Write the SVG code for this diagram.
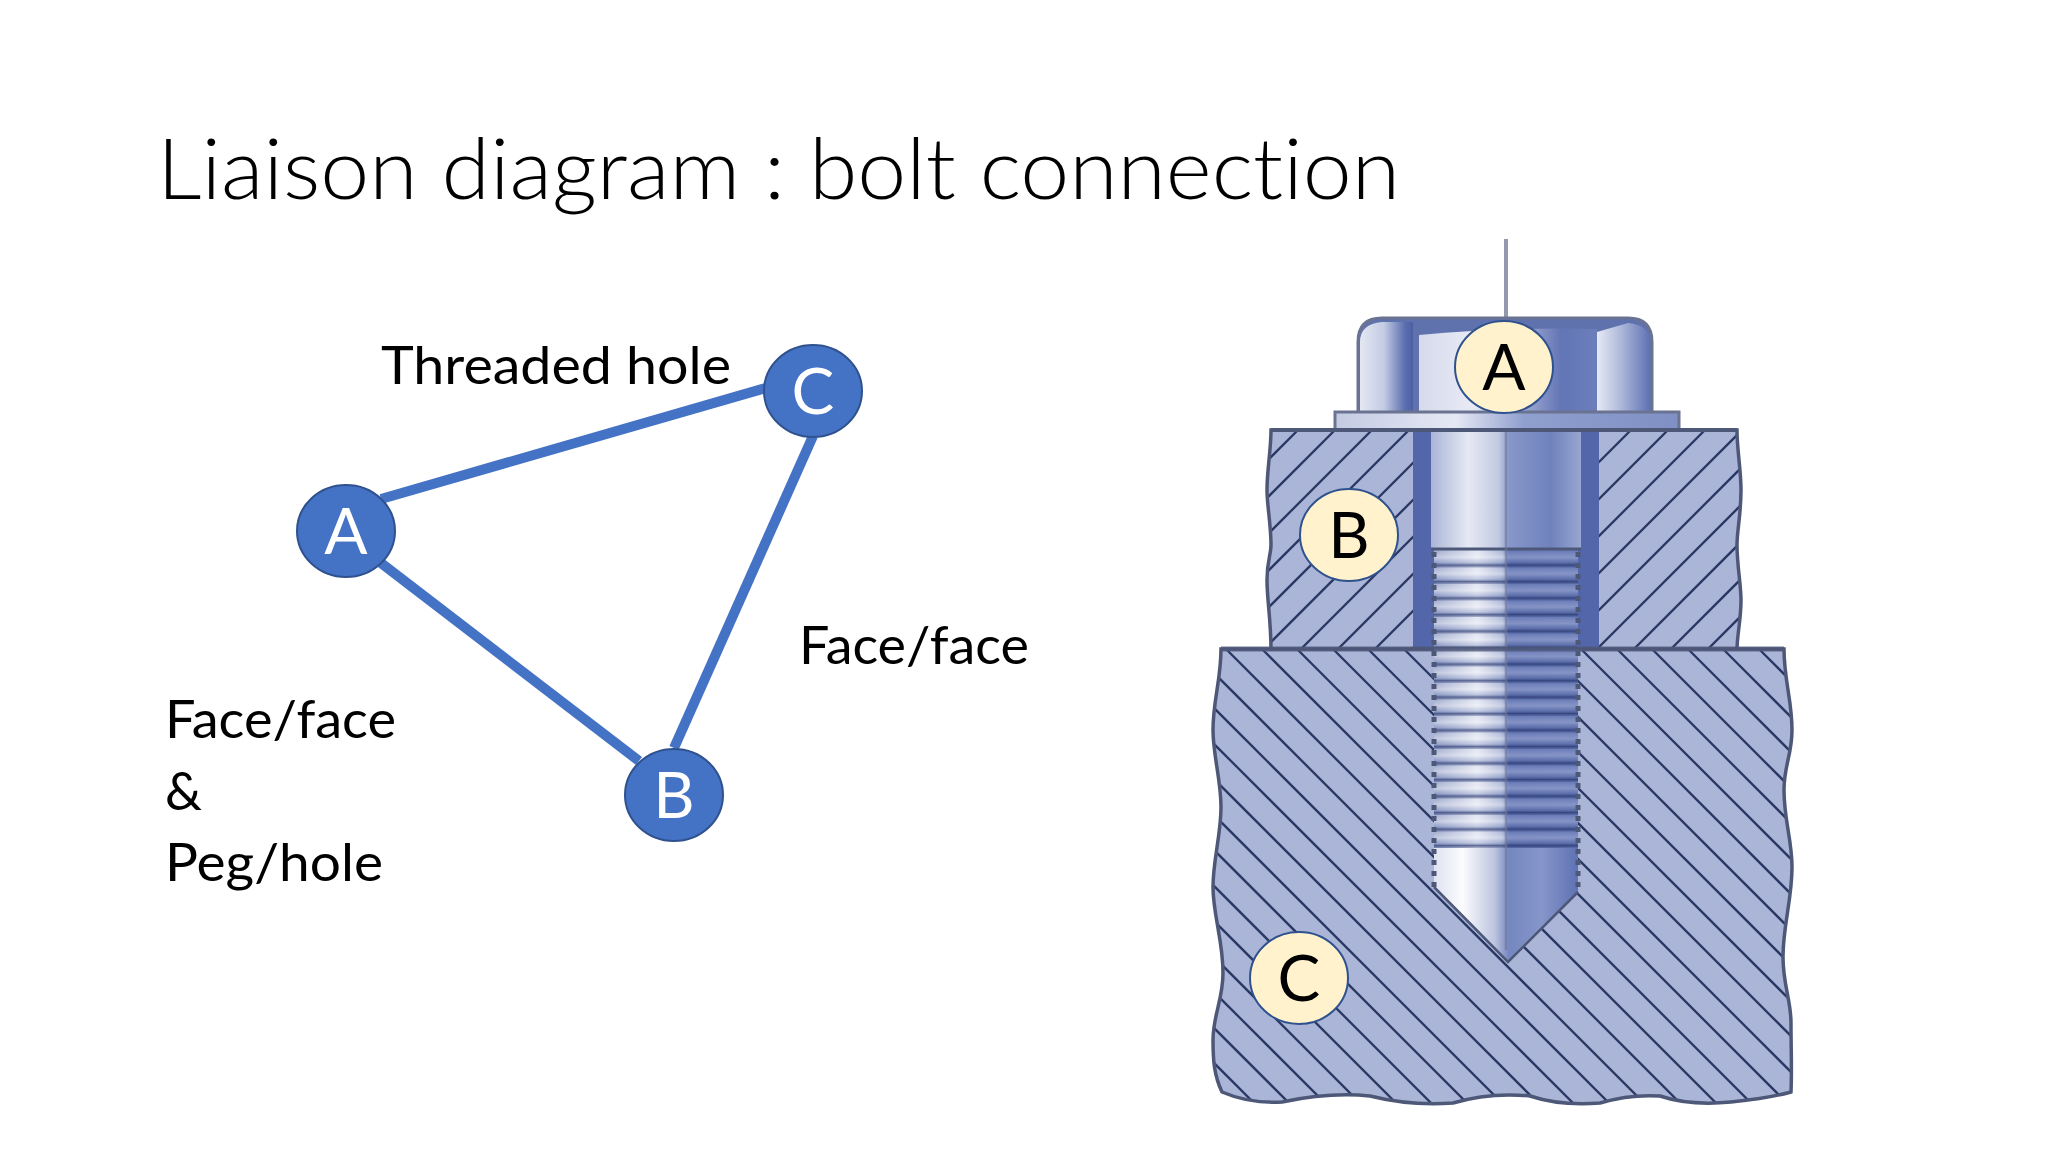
<svg xmlns="http://www.w3.org/2000/svg" width="2048" height="1152" viewBox="0 0 2048 1152">
<style>
text{font-family:Lato,"Open Sans","Liberation Sans",sans-serif;fill:#000;font-variant-ligatures:none}
.lbl{font-size:52px}
.nt{font-size:64px;text-anchor:middle}
.blue ellipse{fill:#4472c4;stroke:#2f528f;stroke-width:2}
.blue text{fill:#fff}
.cream ellipse{fill:#fff2cc;stroke:#2f528f;stroke-width:2}
.conn{stroke:#4472c4;stroke-width:10;fill:none}
.hatch{stroke:#2a3864;stroke-width:2.3;fill:none}
.edge{stroke:#4e5878;stroke-width:3.5;fill:none}
</style>
<defs>
<filter id="soft" x="-2%" y="-2%" width="104%" height="104%"><feGaussianBlur stdDeviation="0.6"/></filter>
<linearGradient id="bolt" x1="0" x2="1" y1="0" y2="0">
<stop offset="0" stop-color="#aab5d6"/><stop offset=".25" stop-color="#e6e9f4"/><stop offset=".45" stop-color="#c2cae2"/><stop offset=".52" stop-color="#8797ca"/><stop offset=".8" stop-color="#6f82bd"/><stop offset="1" stop-color="#98a6d0"/>
</linearGradient>
<linearGradient id="threadBase" x1="0" x2="1" y1="0" y2="0">
<stop offset="0" stop-color="#9ba7cc"/><stop offset=".3" stop-color="#e3e6f2"/><stop offset=".47" stop-color="#a9b4d6"/><stop offset=".52" stop-color="#6678b6"/><stop offset="1" stop-color="#6a7cb8"/>
</linearGradient>
<linearGradient id="facetL" x1="0" x2="1" y1="0" y2="0">
<stop offset="0" stop-color="#e4e8f3"/><stop offset=".45" stop-color="#c4cce4"/><stop offset=".85" stop-color="#5b6eae"/><stop offset="1" stop-color="#4d60a3"/>
</linearGradient>
<linearGradient id="facetC" x1="0" x2="1" y1="0" y2="0">
<stop offset="0" stop-color="#d5daec"/><stop offset=".3" stop-color="#e8ebf5"/><stop offset=".5" stop-color="#b9c2df"/><stop offset=".8" stop-color="#6275b6"/><stop offset="1" stop-color="#6c7eba"/>
</linearGradient>
<linearGradient id="facetR" x1="0" x2="1" y1="0" y2="0">
<stop offset="0" stop-color="#e6e9f4"/><stop offset=".4" stop-color="#b4bedd"/><stop offset="1" stop-color="#5f72b4"/>
</linearGradient>
<linearGradient id="washer" x1="0" x2="1" y1="0" y2="0">
<stop offset="0" stop-color="#c3cbe3"/><stop offset=".35" stop-color="#e6e9f4"/><stop offset=".55" stop-color="#8f9fce"/><stop offset="1" stop-color="#8090c4"/>
</linearGradient>
<linearGradient id="cone" x1="0" x2="1" y1="0" y2="0">
<stop offset="0" stop-color="#dfe3f1"/><stop offset=".2" stop-color="#fbfcfe"/><stop offset=".42" stop-color="#bdc5df"/><stop offset=".52" stop-color="#7587c0"/><stop offset=".75" stop-color="#8696ca"/><stop offset="1" stop-color="#5e71b3"/>
</linearGradient>
<linearGradient id="ridgeL" x1="0" x2="0" y1="0" y2="1">
<stop offset="0" stop-color="#fff" stop-opacity=".05"/><stop offset=".4" stop-color="#fff" stop-opacity=".4"/><stop offset=".7" stop-color="#8090c0" stop-opacity=".3"/><stop offset=".85" stop-color="#27376f" stop-opacity=".7"/><stop offset="1" stop-color="#27376f" stop-opacity=".25"/>
</linearGradient>
<linearGradient id="ridgeR" x1="0" x2="0" y1="0" y2="1">
<stop offset="0" stop-color="#fff" stop-opacity="0"/><stop offset=".4" stop-color="#dfe4f4" stop-opacity=".25"/><stop offset=".7" stop-color="#34467f" stop-opacity=".2"/><stop offset=".85" stop-color="#1f2f68" stop-opacity=".7"/><stop offset="1" stop-color="#27376f" stop-opacity=".2"/>
</linearGradient>
<pattern id="threadL" x="0" y="551" width="16" height="16.5" patternUnits="userSpaceOnUse"><rect width="16" height="16.5" fill="url(#ridgeL)"/></pattern>
<pattern id="threadR" x="0" y="551" width="16" height="16.5" patternUnits="userSpaceOnUse"><rect width="16" height="16.5" fill="url(#ridgeR)"/></pattern>
<path id="outlineB" d="M1271 430H1737C1737 450 1741 470 1741 490C1741 515 1737 530 1737 545C1737 565 1741 585 1741 600C1741 620 1737 635 1737 650H1271C1271 620 1267 600 1267 580C1267 560 1271 555 1271 545C1271 525 1267 505 1267 490C1267 470 1271 450 1271 430Z"/>
<path id="outlineC" d="M1221 649H1784C1784 680 1792 700 1792 730C1792 755 1784 765 1784 790C1784 820 1792 840 1792 867C1792 900 1783 925 1783 957C1783 985 1791 1000 1791 1023C1791 1050 1792 1070 1791 1092Q1770 1098 1731 1102Q1690 1106 1660 1096Q1630 1094 1600 1103Q1560 1106 1530 1096Q1490 1092 1453 1103Q1410 1106 1370 1096Q1330 1092 1282 1102Q1250 1104 1222 1092C1214 1075 1213 1060 1213 1040C1213 1015 1223 1000 1223 973C1223 940 1213 915 1213 887C1213 860 1221 835 1221 807C1221 780 1213 755 1213 730C1213 700 1221 680 1221 649Z"/>
<clipPath id="clipB"><use href="#outlineB"/></clipPath>
<clipPath id="clipC"><use href="#outlineC"/></clipPath>
</defs>
<text id="title" x="157" y="199" style="font-size:84px;font-weight:300" textLength="1243" lengthAdjust="spacingAndGlyphs">Liaison diagram : bolt connection</text>
<g id="connectors">
<line class="conn" x1="381" y1="499" x2="766" y2="388"/>
<line class="conn" x1="381" y1="563" x2="639" y2="761"/>
<line class="conn" x1="813" y1="436" x2="674" y2="748"/>
</g>
<g id="node-A" class="blue"><ellipse cx="346" cy="531" rx="49" ry="46"/><text class="nt" x="346" y="554">A</text></g>
<g id="node-B" class="blue"><ellipse cx="674" cy="795" rx="49" ry="46"/><text class="nt" x="674" y="818">B</text></g>
<g id="node-C" class="blue"><ellipse cx="813" cy="391" rx="49" ry="46"/><text class="nt" x="813" y="414">C</text></g>
<text class="lbl" x="381" y="384" textLength="350" lengthAdjust="spacingAndGlyphs">Threaded hole</text>
<text class="lbl" x="799" y="664" textLength="230" lengthAdjust="spacingAndGlyphs">Face/face</text>
<text class="lbl" x="165" y="738" textLength="231" lengthAdjust="spacingAndGlyphs">Face/face</text>
<text class="lbl" x="165" y="810">&amp;</text>
<text class="lbl" x="165" y="881" textLength="218" lengthAdjust="spacingAndGlyphs">Peg/hole</text>
<g id="bolt-drawing" filter="url(#soft)">
<line x1="1506" y1="239" x2="1506" y2="320" stroke="#9499ad" stroke-width="4"/>
<g id="part-B">
<use href="#outlineB" fill="#aab5d7"/>
<path class="hatch" clip-path="url(#clipB)" d="M1298 430l-230 230M1335 430l-230 230M1372 430l-230 230M1409 430l-230 230M1446 430l-230 230M1483 430l-230 230M1520 430l-230 230M1557 430l-230 230M1594 430l-230 230M1631 430l-230 230M1668 430l-230 230M1705 430l-230 230M1742 430l-230 230M1779 430l-230 230M1816 430l-230 230M1853 430l-230 230M1890 430l-230 230M1927 430l-230 230"/>
<use href="#outlineB" class="edge"/>
<rect x="1413" y="430" width="186" height="219" fill="#5366aa"/>
</g>
<g id="part-C">
<use href="#outlineC" fill="#aab5d7"/>
<path class="hatch" clip-path="url(#clipC)" d="M765 650l460 460M801 650l460 460M836 650l460 460M872 650l460 460M907 650l460 460M943 650l460 460M978 650l460 460M1014 650l460 460M1049 650l460 460M1085 650l460 460M1120 650l460 460M1156 650l460 460M1191 650l460 460M1227 650l460 460M1263 650l460 460M1298 650l460 460M1334 650l460 460M1369 650l460 460M1405 650l460 460M1440 650l460 460M1476 650l460 460M1511 650l460 460M1547 650l460 460M1582 650l460 460M1618 650l460 460M1653 650l460 460M1689 650l460 460M1724 650l460 460M1760 650l460 460"/>
<use href="#outlineC" class="edge"/>
</g>
<g id="part-A">
<path d="M1434 549H1578V892L1508 962L1434 887Z" fill="url(#cone)"/>
<rect x="1434" y="549" width="144" height="299" fill="url(#threadBase)"/>
<rect x="1434" y="551" width="72" height="297" fill="url(#threadL)"/>
<rect x="1506" y="551" width="72" height="297" fill="url(#threadR)"/>
<rect x="1431" y="430" width="150" height="119" fill="url(#bolt)"/>
<line x1="1431" y1="549" x2="1581" y2="549" stroke="#4e5878" stroke-width="3"/>
<path d="M1434 887L1508 962L1578 892" fill="none" stroke="#4e5878" stroke-width="2.5"/>
<path d="M1434 552V887M1578 552V892" fill="none" stroke="#4e5878" stroke-width="5" stroke-dasharray="5 6"/>
<line x1="1506" y1="320" x2="1506" y2="950" stroke="#6d7596" stroke-width="2.5" stroke-opacity=".6"/>
<path d="M1358 411V342Q1358 318 1382 318H1628Q1652 318 1652 342V411Z" fill="#6072ae" stroke="#6a7392" stroke-width="3"/>
<path d="M1360 411V342Q1360 324 1382 322H1413V411Z" fill="url(#facetL)"/>
<path d="M1419 411V335Q1500 327 1597 329V411Z" fill="url(#facetC)"/>
<path d="M1597 411V332L1628 323Q1650 325 1650 342V411Z" fill="url(#facetR)"/>
<rect x="1335" y="412" width="344" height="18" fill="url(#washer)" stroke="#6a7392" stroke-width="3"/>
<line x1="1271" y1="430" x2="1737" y2="430" stroke="#4e5878" stroke-width="4"/>
<line x1="1221" y1="649" x2="1784" y2="649" stroke="#4e5878" stroke-width="5" stroke-opacity=".8"/>
</g>
</g>
<g id="tag-A" class="cream"><ellipse cx="1504" cy="367" rx="49" ry="46"/><text class="nt" x="1504" y="390">A</text></g>
<g id="tag-B" class="cream"><ellipse cx="1349" cy="535" rx="49" ry="46"/><text class="nt" x="1349" y="558">B</text></g>
<g id="tag-C" class="cream"><ellipse cx="1299" cy="978" rx="49" ry="46"/><text class="nt" x="1299" y="1001">C</text></g>
</svg>
